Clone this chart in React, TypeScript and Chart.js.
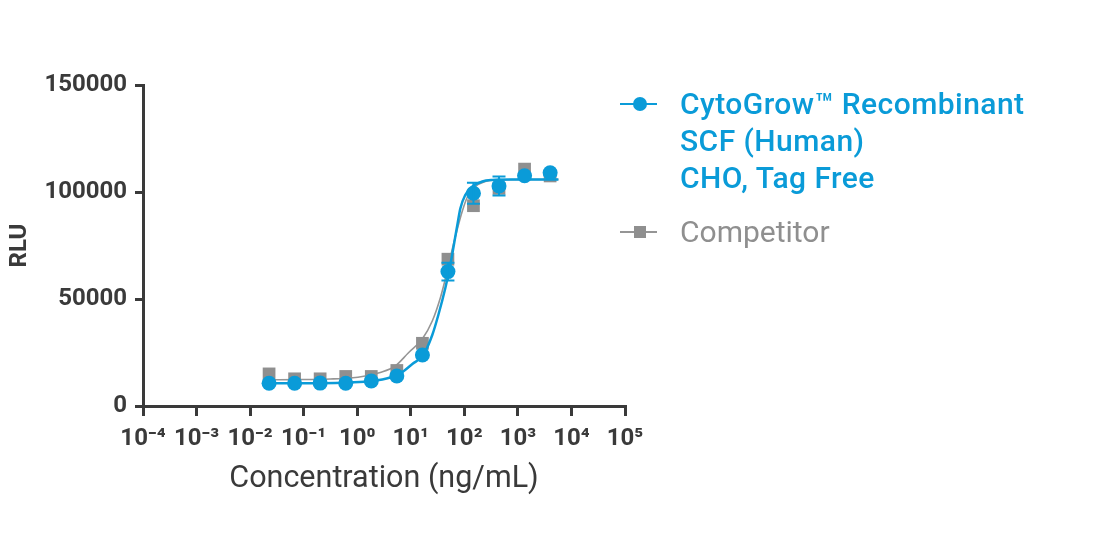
import React, { useEffect, useRef } from "react";
import { Chart, registerables } from "chart.js";

Chart.register(...registerables);

// ---- data ----
const concentrations = [0.0226, 0.0677, 0.203, 0.61, 1.83, 5.49, 16.5, 49.4, 148, 444, 1333, 4000];
const cytoGrowRLU = [10600, 10600, 10700, 10600, 11700, 14000, 23800, 62800, 99400, 102800, 107600, 109000];
const cytoGrowErr = [0, 0, 0, 0, 0, 0, 0, 4100, 4900, 4400, 0, 0];
const competitorRLU = [15000, 12700, 12700, 13800, 13800, 16600, 29300, 68600, 93600, 101700, 110700, 107500];

const cytoGrowFitX = [0.0226, 0.203, 0.74, 1.91, 4.14, 6.37, 10.7, 17.1, 25.2, 32.7, 44.2, 54.7, 63.7, 74.0, 84.2, 104, 141, 217, 334, 724, 5710];
const cytoGrowFitY = [10610, 10650, 10980, 11680, 13320, 15190, 19630, 23830, 33180, 42520, 55140, 65890, 75240, 84580, 92290, 98600, 102570, 104910, 105610, 105840, 105840];
const competitorFitX = [0.0217, 0.0861, 0.313, 0.74, 1.41, 2.69, 5.13, 8.97, 16.4, 25.2, 35.6, 48.1, 59.7, 74.0, 91.8, 114, 161, 247, 379, 1110, 5710];
const competitorFitY = [12240, 12340, 12620, 13080, 14020, 15650, 18690, 24770, 31310, 39720, 50470, 63090, 73370, 82710, 91120, 97660, 102570, 104910, 105610, 105840, 105840];

const xTickValues = [1e-4, 1e-3, 1e-2, 1e-1, 1e0, 1e1, 1e2, 1e3, 1e4, 1e5];
const xTickLabels = ["10⁻⁴", "10⁻³", "10⁻²", "10⁻¹", "10⁰", "10¹", "10²", "10³", "10⁴", "10⁵"];
const yTickValues = [0, 50000, 100000, 150000];

const seriesNames = ["CytoGrow™ Recombinant", "SCF (Human)", "CHO, Tag Free"];
const competitorName = "Competitor";
const xTitle = "Concentration (ng/mL)";
const yTitle = "RLU";

const BLUE = "#0a9bd8";
const GRAY = "#8f8f8f";
const GRAY_LINE = "#959595";
const AXIS = "#3a3a3a";
const FONT = "Roboto, 'Noto Sans', sans-serif";

const W = 1104;
const H = 534;

const errorBarPlugin = {
  id: "errorBars",
  afterDatasetsDraw(chart: any) {
    const { ctx } = chart;
    const yScale = chart.scales.y;
    chart.data.datasets.forEach((ds: any, i: number) => {
      if (!ds.errors) return;
      const meta = chart.getDatasetMeta(i);
      ctx.save();
      ctx.strokeStyle = ds.errorColor;
      ctx.lineWidth = 2;
      meta.data.forEach((pt: any, j: number) => {
        const e = ds.errors[j];
        if (!e) return;
        const v = ds.data[j].y;
        const yTop = yScale.getPixelForValue(v + e);
        const yBot = yScale.getPixelForValue(v - e);
        const x = pt.x;
        const cap = 6.5;
        ctx.beginPath();
        ctx.moveTo(x, yTop);
        ctx.lineTo(x, yBot);
        ctx.moveTo(x - cap, yTop);
        ctx.lineTo(x + cap, yTop);
        ctx.moveTo(x - cap, yBot);
        ctx.lineTo(x + cap, yBot);
        ctx.stroke();
      });
      ctx.restore();
    });
  },
};

function ChartCanvas() {
  const ref = useRef<HTMLCanvasElement | null>(null);

  useEffect(() => {
    if (!ref.current) return;
    const chart = new Chart(ref.current, {
      type: "scatter",
      data: {
        datasets: [
          {
            label: seriesNames.join(" "),
            data: concentrations.map((x, i) => ({ x, y: cytoGrowRLU[i] })),
            pointStyle: "circle",
            pointRadius: 7.5,
            pointBackgroundColor: BLUE,
            pointBorderWidth: 0,
            showLine: false,
            order: 1,
            errors: cytoGrowErr,
            errorColor: BLUE,
          } as any,
          {
            label: "CytoGrow fit",
            data: cytoGrowFitX.map((x, i) => ({ x, y: cytoGrowFitY[i] })),
            showLine: true,
            pointRadius: 0,
            borderColor: BLUE,
            borderWidth: 2.5,
            cubicInterpolationMode: "monotone",
            order: 2,
          },
          {
            label: competitorName,
            data: concentrations.map((x, i) => ({ x, y: competitorRLU[i] })),
            pointStyle: "rect",
            pointRadius: 9,
            pointBackgroundColor: GRAY,
            pointBorderWidth: 0,
            showLine: false,
            order: 3,
          },
          {
            label: "Competitor fit",
            data: competitorFitX.map((x, i) => ({ x, y: competitorFitY[i] })),
            showLine: true,
            pointRadius: 0,
            borderColor: GRAY_LINE,
            borderWidth: 1.6,
            cubicInterpolationMode: "monotone",
            order: 4,
          },
        ],
      },
      options: {
        responsive: false,
        animation: false,
        events: [],
        layout: { padding: { left: 0, top: 85, right: W - 625, bottom: 0 } },
        plugins: {
          legend: { display: false },
          tooltip: { enabled: false },
        },
        scales: {
          x: {
            type: "logarithmic",
            min: 1e-4,
            max: 1e5,
            afterBuildTicks: (scale: any) => {
              scale.ticks = xTickValues.map((value) => ({ value }));
            },
            afterFit: (scale: any) => {
              scale.height = H - 406;
            },
            grid: {
              drawOnChartArea: false,
              drawTicks: true,
              tickLength: 10,
              color: AXIS,
              lineWidth: 3,
            },
            border: { display: true, color: AXIS, width: 3 },
            ticks: {
              autoSkip: false,
              maxRotation: 0,
              padding: 9,
              color: AXIS,
              font: { family: FONT, size: 24, weight: "bold" },
              callback: (value: any) => {
                const idx = xTickValues.findIndex((v) => Math.abs(Math.log10(v) - Math.log10(value)) < 1e-6);
                return idx >= 0 ? xTickLabels[idx] : "";
              },
            },
            title: {
              display: true,
              text: xTitle,
              color: AXIS,
              font: { family: FONT, size: 30.5, weight: "normal" },
              padding: { top: 0, bottom: 36.5 },
            },
          },
          y: {
            type: "linear",
            min: 0,
            max: 150000,
            afterBuildTicks: (scale: any) => {
              scale.ticks = yTickValues.map((value) => ({ value }));
            },
            afterFit: (scale: any) => {
              scale.width = 143;
            },
            grid: {
              drawOnChartArea: false,
              drawTicks: true,
              tickLength: 8,
              color: AXIS,
              lineWidth: 3,
            },
            border: { display: true, color: AXIS, width: 3 },
            ticks: {
              padding: 8,
              color: AXIS,
              font: { family: FONT, size: 24, weight: "bold" },
              callback: (value: any) => String(value),
            },
            title: {
              display: true,
              text: yTitle,
              color: AXIS,
              font: { family: FONT, size: 24, weight: "bold" },
              padding: { top: 6, bottom: 0 },
            },
          },
        },
      },
      plugins: [errorBarPlugin],
    } as any);
    return () => chart.destroy();
  }, []);

  return <canvas ref={ref} width={W} height={H} style={{ width: W, height: H, display: "block" }} />;
}

function Legend() {
  const markerLine = (color: string) => ({
    position: "absolute" as const,
    left: 620,
    width: 37,
    height: 2,
    background: color,
  });
  return (
    <>
      <div style={{ ...markerLine(BLUE), top: 103 }} />
      <div
        style={{
          position: "absolute",
          left: 633,
          top: 97,
          width: 14,
          height: 14,
          borderRadius: "50%",
          background: BLUE,
        }}
      />
      <div
        style={{
          position: "absolute",
          left: 680,
          top: 85,
          fontFamily: FONT,
          fontSize: 30,
          fontWeight: 500,
          letterSpacing: "0.45px",
          lineHeight: "37px",
          color: BLUE,
          whiteSpace: "nowrap",
        }}
      >
        {seriesNames.map((s) => (
          <div key={s}>{s}</div>
        ))}
      </div>
      <div style={{ ...markerLine(GRAY_LINE), top: 231 }} />
      <div
        style={{
          position: "absolute",
          left: 634,
          top: 226,
          width: 12,
          height: 12,
          background: GRAY,
        }}
      />
      <div
        style={{
          position: "absolute",
          left: 680,
          top: 213,
          fontFamily: FONT,
          fontSize: 30,
          fontWeight: 400,
          lineHeight: "37px",
          color: GRAY,
          whiteSpace: "nowrap",
        }}
      >
        {competitorName}
      </div>
    </>
  );
}

export default function App() {
  return (
    <div style={{ position: "absolute", left: 0, top: 0, width: W, height: H, background: "#ffffff" }}>
      <ChartCanvas />
      <Legend />
    </div>
  );
}
